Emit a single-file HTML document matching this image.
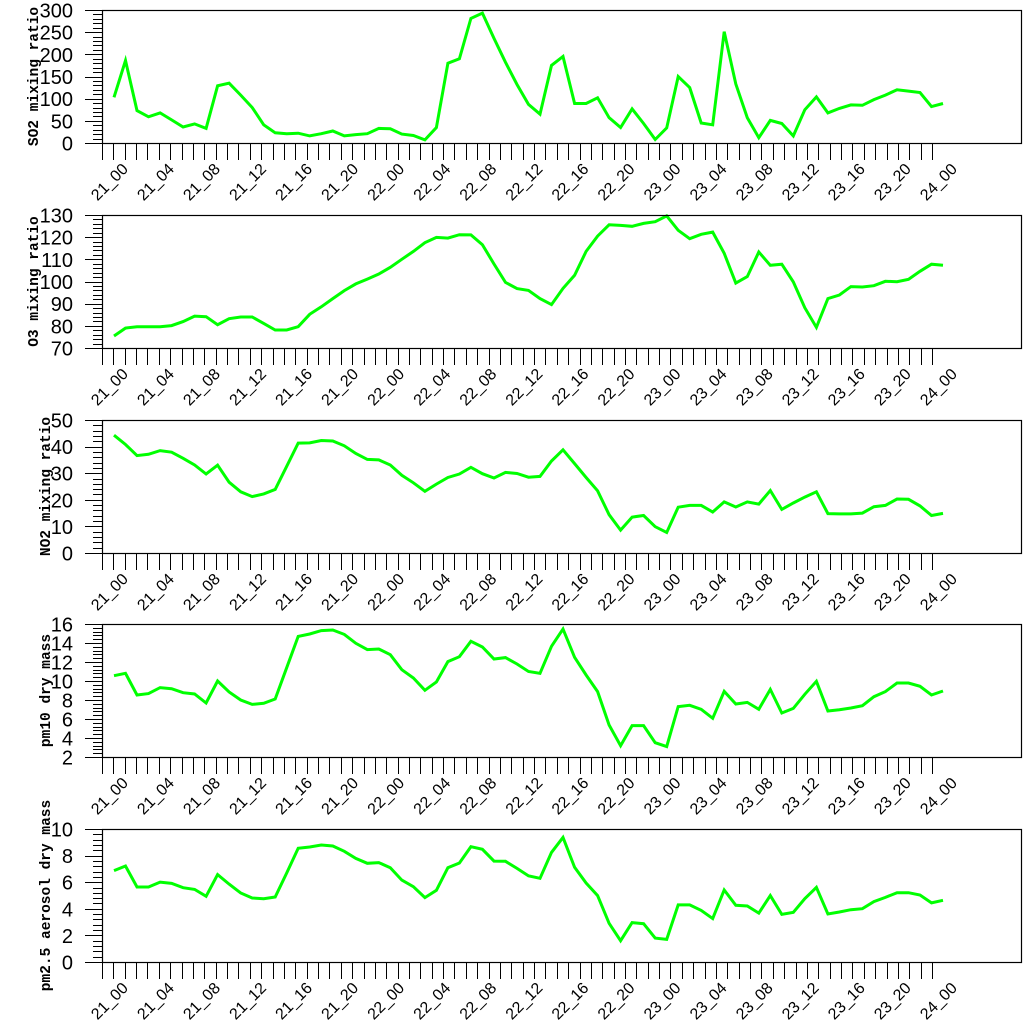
<!DOCTYPE html>
<html><head><meta charset="utf-8"><style>
html,body{margin:0;padding:0;background:#fff;}
svg{display:block;}
</style></head><body>
<svg id="chart" xmlns="http://www.w3.org/2000/svg" width="1024" height="1024" viewBox="0 0 1024 1024"></svg>
<script>
const timeLabels = ["21_00","21_04","21_08","21_12","21_16","21_20","22_00","22_04","22_08","22_12","22_16","22_20","23_00","23_04","23_08","23_12","23_16","23_20","24_00"];
const so2 = [103,186,73,59,68,52,36,43,33,129,135,108,80,41,23,21,22,16,21,27,16,19,21,33,32,20,17,7,35,180,190,281,293,236,182,132,87,65,175,195,89,89,102,57,35,77,44,8,34,150,125,45,41,251,133,57,12,51,44,16,75,104,68,78,86,85,98,108,120,117,114,82,89];
const o3 = [75.4,79.0,79.6,79.6,79.6,80.1,81.9,84.4,84.1,80.5,83.2,84.0,84.0,81.1,78.1,78.1,79.6,85.2,88.6,92.3,95.9,98.9,101.1,103.4,106.4,110.0,113.6,117.5,119.9,119.6,121.1,121.0,116.6,107.9,99.6,96.8,96.0,92.3,89.6,96.9,102.8,113.6,120.5,125.6,125.3,124.9,126.2,127.0,129.6,123.1,119.3,121.3,122.3,112.7,99.3,102.2,113.3,107.3,107.8,99.8,88.2,79.3,92.3,93.9,97.7,97.5,98.1,100.1,99.9,101.0,104.6,107.8,107.3];
const no2 = [44.3,40.8,36.6,37.1,38.5,37.9,35.6,33.1,29.7,33.0,26.6,23.0,21.2,22.2,23.9,32.6,41.3,41.4,42.3,42.1,40.3,37.4,35.2,35.0,33.1,29.2,26.4,23.2,25.9,28.4,29.7,32.2,29.8,28.2,30.3,29.9,28.5,28.8,34.6,38.8,33.6,28.4,23.4,14.4,8.6,13.5,14.1,9.9,7.7,17.2,17.9,17.9,15.4,19.2,17.3,19.2,18.4,23.5,16.4,18.8,21.0,23.0,14.8,14.7,14.7,15.0,17.4,17.9,20.3,20.2,17.7,14.1,14.9];
const pm10 = [10.56,10.81,8.53,8.67,9.30,9.19,8.77,8.63,7.68,10.00,8.84,8.00,7.54,7.65,8.11,11.40,14.70,14.95,15.30,15.37,14.91,13.97,13.30,13.37,12.77,11.19,10.32,9.02,9.89,12.04,12.56,14.18,13.58,12.32,12.46,11.79,11.0,10.81,13.65,15.47,12.49,10.63,8.88,5.37,3.19,5.30,5.30,3.51,3.09,7.30,7.44,7.02,6.07,8.91,7.58,7.75,7.02,9.12,6.63,7.12,8.60,9.97,6.84,6.98,7.16,7.40,8.35,8.88,9.79,9.79,9.44,8.53,8.95];
const pm25 = [6.87,7.22,5.64,5.64,6.01,5.91,5.59,5.46,4.94,6.57,5.86,5.19,4.81,4.76,4.89,6.69,8.55,8.65,8.80,8.72,8.32,7.79,7.42,7.47,7.09,6.16,5.66,4.84,5.39,7.09,7.44,8.67,8.47,7.59,7.57,7.04,6.47,6.29,8.24,9.37,7.12,5.94,4.99,2.91,1.60,2.96,2.88,1.80,1.70,4.29,4.29,3.88,3.26,5.41,4.26,4.21,3.68,4.99,3.58,3.73,4.76,5.61,3.61,3.76,3.93,4.01,4.54,4.86,5.21,5.21,5.04,4.44,4.64];
const panelTitles = ["SO2 mixing ratio","O3 mixing ratio","NO2 mixing ratio","pm10 dry mass","pm2.5 aerosol dry mass"];
const panelNames = ["so2","o3","no2","pm10","pm25"];
const yMins = [0,70,0,2,0];
const yMaxs = [300,130,50,16,10];
const yMajor = [50,10,10,2,2];
const yMinorDiv = [5,5,5,5,5];

const NS = "http://www.w3.org/2000/svg";
const svg = document.getElementById("chart");
const series = [so2,o3,no2,pm10,pm25];
const tops = [10,215,420,624,829];
const PH = 133, L = 102, R = 1022;
const X0 = 114, DX = 11.514;
function xScale(i){ return X0 + DX*i; }
function mk(tag, attrs, parent){
  const e = document.createElementNS(NS, tag);
  for (const k in attrs) e.setAttribute(k, attrs[k]);
  (parent||svg).appendChild(e);
  return e;
}
for (let p=0;p<5;p++){
  const top = tops[p], bot = top+PH;
  const ys = v => bot - (v - yMins[p])/(yMaxs[p]-yMins[p])*PH;
  const g = mk("g",{});
  
  
  const xt = mk("g",{stroke:"#000","stroke-width":"1"},g);
  
  
  for (let k=0;k<=73;k++){
    const x = Math.round(L + k*830/73)+0.5;
    mk("line",{x1:x,x2:x,y1:bot,y2:bot+17},xt);
  }
  for (let j=0;j<timeLabels.length;j++){
    const x = xScale(j*4)+15, y = bot+27;
    const t = mk("text",{x:x,y:y,"text-anchor":"end","font-family":"Liberation Sans, sans-serif","font-size":"16",transform:`rotate(-45 ${x} ${y})`},g);
    
    
    t.textContent = timeLabels[j];
  }
  const yt = mk("g",{stroke:"#000","stroke-width":"1"},g);
  
  
  const minorStep = yMajor[p]/yMinorDiv[p];
  const nMinor = Math.round((yMaxs[p]-yMins[p])/minorStep);
  for (let m=0;m<=nMinor;m++){
    const v = yMins[p]+m*minorStep;
    const y = Math.round(ys(v))+0.5;
    const major = m % yMinorDiv[p] === 0;
    mk("line",{x1:major?85:93,x2:L,y1:y,y2:y},yt);
    if (major){
      const t = mk("text",{x:73,y:ys(v)+7.5,"text-anchor":"end","font-family":"Liberation Sans, sans-serif","font-size":"20"},g);
      
      
      t.textContent = String(Math.round(v*100)/100);
    }
  }
  const tx = yMaxs[p] >= 100 ? 38 : 50;
  const cy = top+PH/2;
  const tt = mk("text",{x:tx,y:cy,"text-anchor":"middle","font-family":"Liberation Mono, monospace","font-weight":"bold","font-size":"14.5",transform:`rotate(-90 ${tx} ${cy})`},g);
  
  
  tt.textContent = panelTitles[p];
  const d = series[p].map((v,i)=>(i?"L":"M")+xScale(i).toFixed(1)+","+ys(v).toFixed(1)).join(" ");
  const path = mk("path",{d:d,fill:"none",stroke:"#00ff00","stroke-width":"3","stroke-linejoin":"miter"},g);
  
  
  const fr = mk("rect",{x:L+0.5,y:top+0.5,width:R-L-1,height:PH,fill:"none",stroke:"#000","stroke-width":"1.2"},g);
  
  
}
</script>
</body></html>
